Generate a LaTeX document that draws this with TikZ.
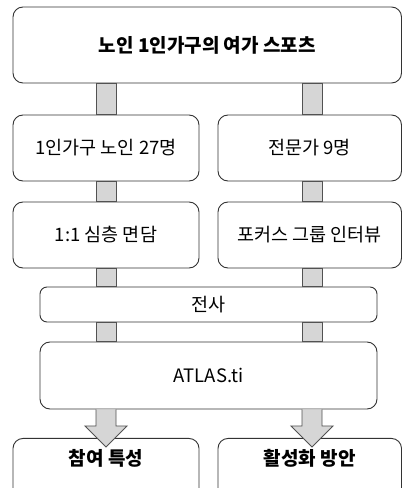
\documentclass[tikz,border=0pt]{standalone}
\usepackage{fontspec}
\setmainfont{Noto Sans CJK KR}
\usetikzlibrary{calc}
\definecolor{edgec}{HTML}{333333}
\definecolor{barc}{HTML}{D6D6D6}
\tikzset{
  box/.style={draw=edgec, line width=0.9pt, fill=white, rounded corners=10pt, inner sep=0pt},
  bar/.style={draw=edgec!85, line width=0.9pt, fill=barc},
  lbl/.style={inner sep=0pt, font=\fontsize{18.5}{20}\selectfont},
  blbl/.style={inner sep=0pt, font=\fontsize{19}{21}\selectfont\bfseries}
}
\begin{document}
\begin{tikzpicture}[x=1pt,y=1pt]
\clip (0,0) rectangle (402,488);
\useasboundingbox (0,0) rectangle (402,488);
% boxes (y = 488 - pixel y)
\node[box, minimum width=388.5pt, minimum height=76pt] (top) at (207.25,443) {};
\node[blbl] (toplbl) at (207.25,443) {노인 1인가구의 여가 스포츠};
\node[box, minimum width=186pt, minimum height=66pt] (l1) at (106,340) {};
\node[lbl] (l1lbl) at (106,340) {1인가구 노인 27명};
\node[box, minimum width=183.5pt, minimum height=66pt] (r1) at (309.75,340) {};
\node[lbl] (r1lbl) at (309.75,340) {전문가 9명};
\node[box, minimum width=186pt, minimum height=66pt] (l2) at (106,253) {};
\node[lbl] (l2lbl) at (106,253) {1:1 심층 면담};
\node[box, minimum width=183.5pt, minimum height=66pt] (r2) at (309.75,253) {};
\node[lbl] (r2lbl) at (309.75,253) {포커스 그룹 인터뷰};
\node[box, rounded corners=7pt, minimum width=337pt, minimum height=35pt] (tr) at (208.5,183.5) {};
\node[lbl] (trlbl) at (208.5,183.5) {전사};
\node[box, minimum width=337pt, minimum height=67pt] (at) at (208.5,112.5) {};
\node[lbl] (atlbl) at (208.5,112.5) {ATLAS.ti};
\node[box, minimum width=186pt, minimum height=66pt, anchor=north] (l3) at (106,50) {};
\node[blbl] (l3lbl) at (106,30) {참여 특성};
\node[box, minimum width=183.5pt, minimum height=66pt, anchor=north] (r3) at (309.75,50) {};
\node[blbl] (r3lbl) at (309.75,30) {활성화 방안};
% connector bars
\foreach \a/\b in {top/l1, l1/l2, l2/tr, tr/at}{
  \draw[bar] ($(\a.south -| 96,0)$) rectangle ($(\b.north -| 116,0)$);
}
\foreach \a/\b in {top/r1, r1/r2, r2/tr, tr/at}{
  \draw[bar] ($(\a.south -| 302,0)$) rectangle ($(\b.north -| 322,0)$);
}
% block arrows
\coordinate (lt) at (106,41);
\coordinate (rt) at (312,41);
\draw[bar, line join=miter] ($(at.south -| 96,0)$) -- (96,62) -- (85,62) -- (lt) -- (127,62) -- (116,62) -- ($(at.south -| 116,0)$);
\draw[bar, line join=miter] ($(at.south -| 302,0)$) -- (302,62) -- (291,62) -- (rt) -- (333,62) -- (322,62) -- ($(at.south -| 322,0)$);
\end{tikzpicture}
\end{document}
